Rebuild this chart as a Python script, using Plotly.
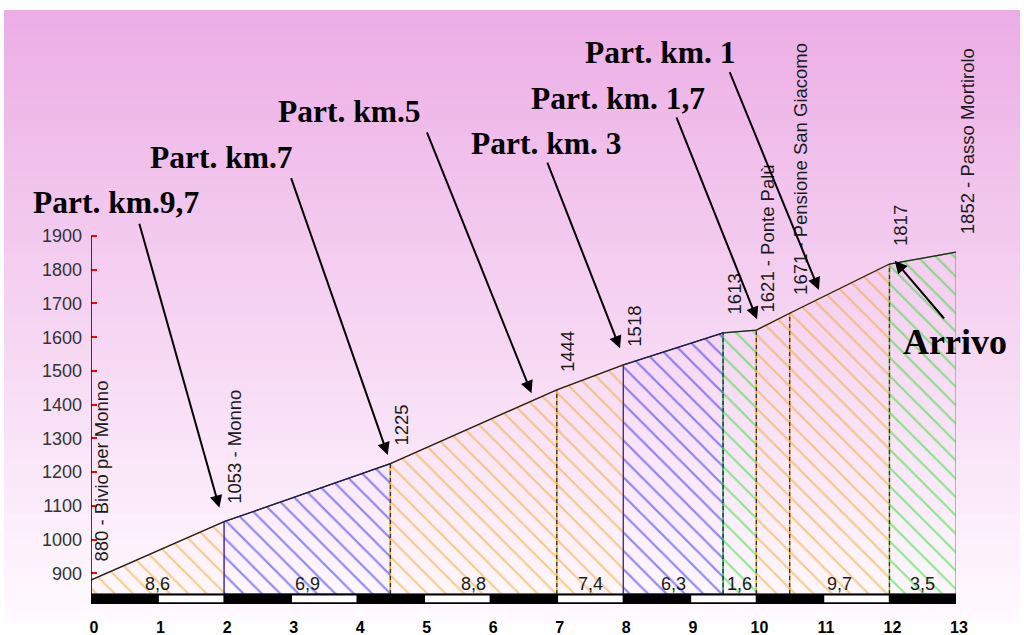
import plotly.graph_objects as go

# ---------------- data ----------------
km = [0, 2, 4.5, 7, 8, 9.5, 10, 10.5, 12, 13]
elev = [880, 1053, 1225, 1444, 1518, 1613, 1621, 1671, 1817, 1852]
places = ["Bivio per Monno", "Monno", "", "", "", "", "Ponte Palù",
          "Pensione San Giacomo", "", "Passo Mortirolo"]
grad_labels = ["8,6", "6,9", "8,8", "7,4", "6,3", "1,6", "", "9,7", "3,5"]
seg_class = ["o", "b", "o", "o", "b", "g", "o", "o", "g"]
km_ticks = list(range(0, 14))
elev_ticks = list(range(900, 2000, 100))

arrow_texts = ["Part. km.9,7", "Part. km.7", "Part. km.5", "Part. km. 3",
               "Part. km. 1,7", "Part. km. 1", "Arrivo"]
# arrow tip / tail in data units (km, m)
arrow_tip = [(1.93, 1094), (4.46, 1251), (6.62, 1434), (7.95, 1567),
             (10.01, 1653), (10.94, 1740), (12.08, 1827)]
arrow_tail = [(0.72, 1941), (3.00, 2076), (5.04, 2212), (6.85, 2122),
              (8.79, 2256), (9.59, 2390), (12.84, 1651)]
# label anchor in pixels (left, vertical centre)
label_px = [(31, 202), (148, 157), (276, 112), (469, 143),
            (529, 98), (583, 53), (901, 342)]
label_size = [31.5, 31.5, 31.5, 31.5, 31.5, 31.5, 36]

# ---------------- style ----------------
W, H = 1024, 635
ML, MR, MT, MB = 91, 68, 0, 31
PW, PH = W - ML - MR, H - MT - MB
Y0, Y1 = 809, 2599.7
GROUND = 838.6
COL = {"o": "#EEA418", "b": "#1E1EEE", "g": "#1EDE1E"}


def px_to_paper(px, py):
    return (px - ML) / PW, (H - MB - py) / PH


fig = go.Figure()

# hatched segments
for i in range(len(km) - 1):
    c = COL[seg_class[i]]
    fig.add_trace(go.Scatter(
        x=[km[i], km[i], km[i + 1], km[i + 1], km[i]],
        y=[GROUND, elev[i], elev[i + 1], GROUND, GROUND],
        mode="lines", fill="toself", line=dict(color=c, width=1.2),
        fillcolor="rgba(0,0,0,0)",
        fillpattern=dict(shape="\\", fgcolor=c, bgcolor="rgba(0,0,0,0)",
                         size=13, solidity=0.17),
        hoverinfo="skip", showlegend=False))

# dashed separators
for i in range(1, len(km) - 1):
    if seg_class[i] == "b":
        continue
    fig.add_trace(go.Scatter(
        x=[km[i], km[i]], y=[GROUND, elev[i]], mode="lines",
        line=dict(color="#333333", width=1.3, dash="4px,3px"),
        hoverinfo="skip", showlegend=False))

# profile line
fig.add_trace(go.Scatter(x=km, y=elev, mode="lines",
                         line=dict(color="#222222", width=1.3),
                         hoverinfo="skip", showlegend=False))

shapes = []
# background gradient
top_c = (236, 174, 229)
bot_c = (255, 250, 255)
y_start, y_end, n = 10, 622, 68
for k in range(n):
    t = k / (n - 1)
    c = tuple(int(round(top_c[j] + (bot_c[j] - top_c[j]) * t)) for j in range(3))
    ya = y_start + (y_end - y_start) * k / n
    yb = y_start + (y_end - y_start) * (k + 1) / n + 0.6
    x0p, y0p = px_to_paper(4, yb)
    x1p, y1p = px_to_paper(1020, ya)
    shapes.append(dict(type="rect", xref="paper", yref="paper", layer="below",
                       x0=x0p, x1=x1p, y0=y0p, y1=y1p,
                       fillcolor="rgb(%d,%d,%d)" % c, line=dict(width=0)))

# distance bar
shapes.append(dict(type="rect", xref="x", yref="y", x0=km[0], x1=km[-1],
                   y0=Y0, y1=GROUND + 1.5, fillcolor="black", line=dict(width=0)))
for k in km_ticks[:-1]:
    if k % 2 == 1:
        shapes.append(dict(type="rect", xref="x", yref="y", x0=k + 0.02, x1=k + 0.99,
                           y0=814.5, y1=834.5, fillcolor="white", line=dict(width=0)))
# y axis line
shapes.append(dict(type="line", xref="x", yref="y", x0=0, x1=0, y0=Y0, y1=elev_ticks[-1],
                   line=dict(color="black", width=1.5)))

annotations = []
# point labels
for x, e, p in zip(km, elev, places):
    txt = str(e) + (" - " + p if p else "")
    annotations.append(dict(x=x, y=e, xref="x", yref="y", text=txt, showarrow=False,
                            textangle=-90, xanchor="center", yanchor="bottom",
                            xshift=11, yshift=16,
                            font=dict(family="Liberation Sans, Arial", size=18.5, color="#1a1a1a")))
# gradient labels
for i, g in enumerate(grad_labels):
    if not g:
        continue
    annotations.append(dict(x=(km[i] + km[i + 1]) / 2, y=GROUND, xref="x", yref="y",
                            text=g, showarrow=False, yanchor="middle", yshift=10,
                            font=dict(family="Liberation Sans, Arial", size=18, color="#1a1a1a")))
# arrows
for (tx, ty), (ax, ay) in zip(arrow_tip, arrow_tail):
    annotations.append(dict(x=tx, y=ty, xref="x", yref="y", ax=ax, ay=ay,
                            axref="x", ayref="y", text="", showarrow=True,
                            arrowhead=2, arrowsize=1.25, arrowwidth=2,
                            arrowcolor="black", standoff=0))
# arrow labels
for t, (lx, ly), s in zip(arrow_texts, label_px, label_size):
    xp, yp = px_to_paper(lx, ly)
    annotations.append(dict(x=xp, y=yp, xref="paper", yref="paper", text="<b>%s</b>" % t,
                            showarrow=False, xanchor="left", yanchor="middle",
                            font=dict(family="Liberation Serif, Times New Roman", size=s,
                                      color="black")))

fig.update_layout(
    width=W, height=H, margin=dict(l=ML, r=MR, t=MT, b=MB, pad=0),
    paper_bgcolor="white", plot_bgcolor="rgba(0,0,0,0)",
    shapes=shapes, annotations=annotations, showlegend=False,
    xaxis=dict(range=[km[0], km[-1]], tickvals=km_ticks, showgrid=False, zeroline=False,
               showline=False, ticks="outside", ticklen=9, tickcolor="rgba(0,0,0,0)",
               ticklabelshift=3, automargin=False, fixedrange=True,
               tickfont=dict(family="Liberation Sans, Arial", size=16, color="black",
                             weight="bold")),
    yaxis=dict(range=[Y0, Y1], tickvals=elev_ticks, showgrid=False, zeroline=False,
               showline=False, ticks="inside", ticklen=6, tickwidth=2, tickcolor="red",
               ticklabelstandoff=8, automargin=False, fixedrange=True,
               tickfont=dict(family="Liberation Sans, Arial", size=18, color="#333333")),
)

fig.write_html("out.html", config={"displayModeBar": False},
               post_script="document.body.style.margin='0';document.body.style.padding='0';"
                           "document.body.style.overflow='hidden';")
